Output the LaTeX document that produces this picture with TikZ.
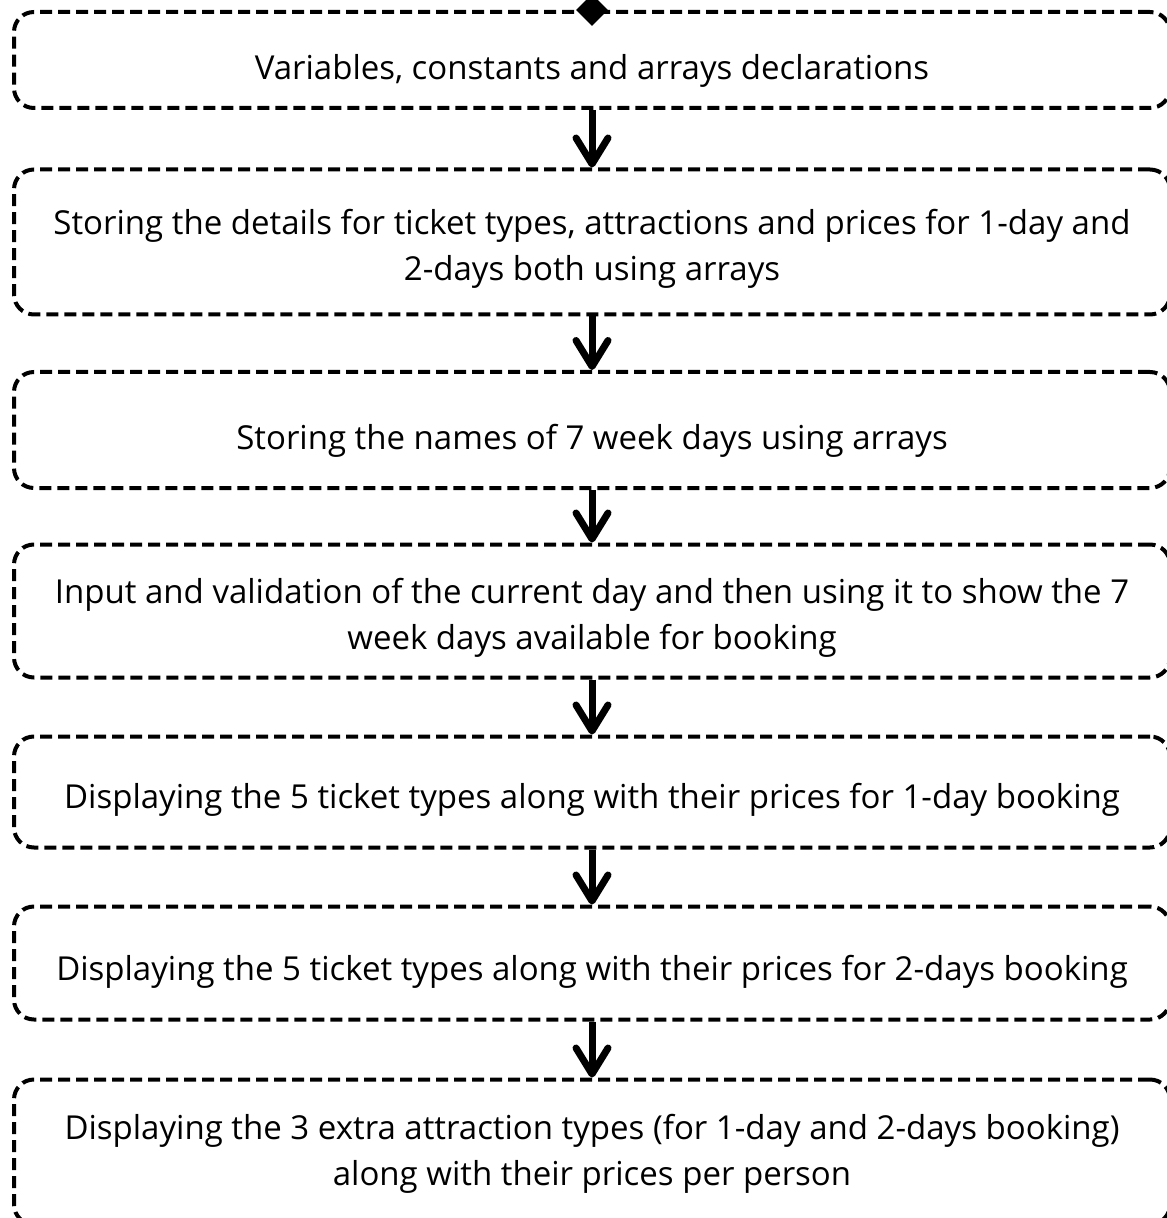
\documentclass[tikz,border=0pt]{standalone}
\usepackage{fontspec}
\setmainfont{Open Sans}
\usetikzlibrary{arrows.meta,shapes.geometric}
\newcommand{\textdrop}[1]{\rule{0pt}{#1}}

\begin{document}
\begin{tikzpicture}[x=0.5pt,y=-0.5pt]
    \useasboundingbox (0,0) rectangle (1166,1218);
    \begin{scope}[every node/.style={draw,dash pattern=on 6pt off 3pt,line width=2pt,rounded corners=10pt,minimum width=578pt,inner sep=0pt,align=center,font=\fontsize{16.5}{23}\selectfont}]
        \node [minimum height=48pt] (vars) at (592,60) {\textdrop{23.5pt}Variables, constants and arrays declarations};
        \node [minimum height=72.5pt] (details) at (592,242) {\textdrop{19.5pt}Storing the details for ticket types, attractions and prices for 1-day and\\2-days both using arrays};
        \node [minimum height=58pt] (weekdays) at (592,430) {\textdrop{23.5pt}Storing the names of 7 week days using arrays};
        \node [minimum height=66.5pt] (curday) at (592,611) {\textdrop{19.5pt}Input and validation of the current day and then using it to show the 7\\week days available for booking};
        \node [minimum height=55.5pt] (oneday) at (592,792) {\textdrop{20.5pt}Displaying the 5 ticket types along with their prices for 1-day booking};
        \node [minimum height=56.5pt] (twoday) at (592,963) {\textdrop{21.5pt}Displaying the 5 ticket types along with their prices for 2-days booking};
        \node [minimum height=72.5pt] (extras) at (592,1152) {\textdrop{14.5pt}Displaying the 3 extra attraction types (for 1-day and 2-days booking)\\along with their prices per person};
    \end{scope}
    \node [diamond,fill,inner sep=0pt,minimum size=16pt] (entry) at (vars.north) {};
    \begin{scope}[line width=3.5pt,-{Straight Barb[length=13pt,width=16pt,round]}]
        \draw (vars) -- (details);
        \draw (details) -- (weekdays);
        \draw (weekdays) -- (curday);
        \draw (curday) -- (oneday);
        \draw (oneday) -- (twoday);
        \draw (twoday) -- (extras);
    \end{scope}
\end{tikzpicture}
\end{document}
